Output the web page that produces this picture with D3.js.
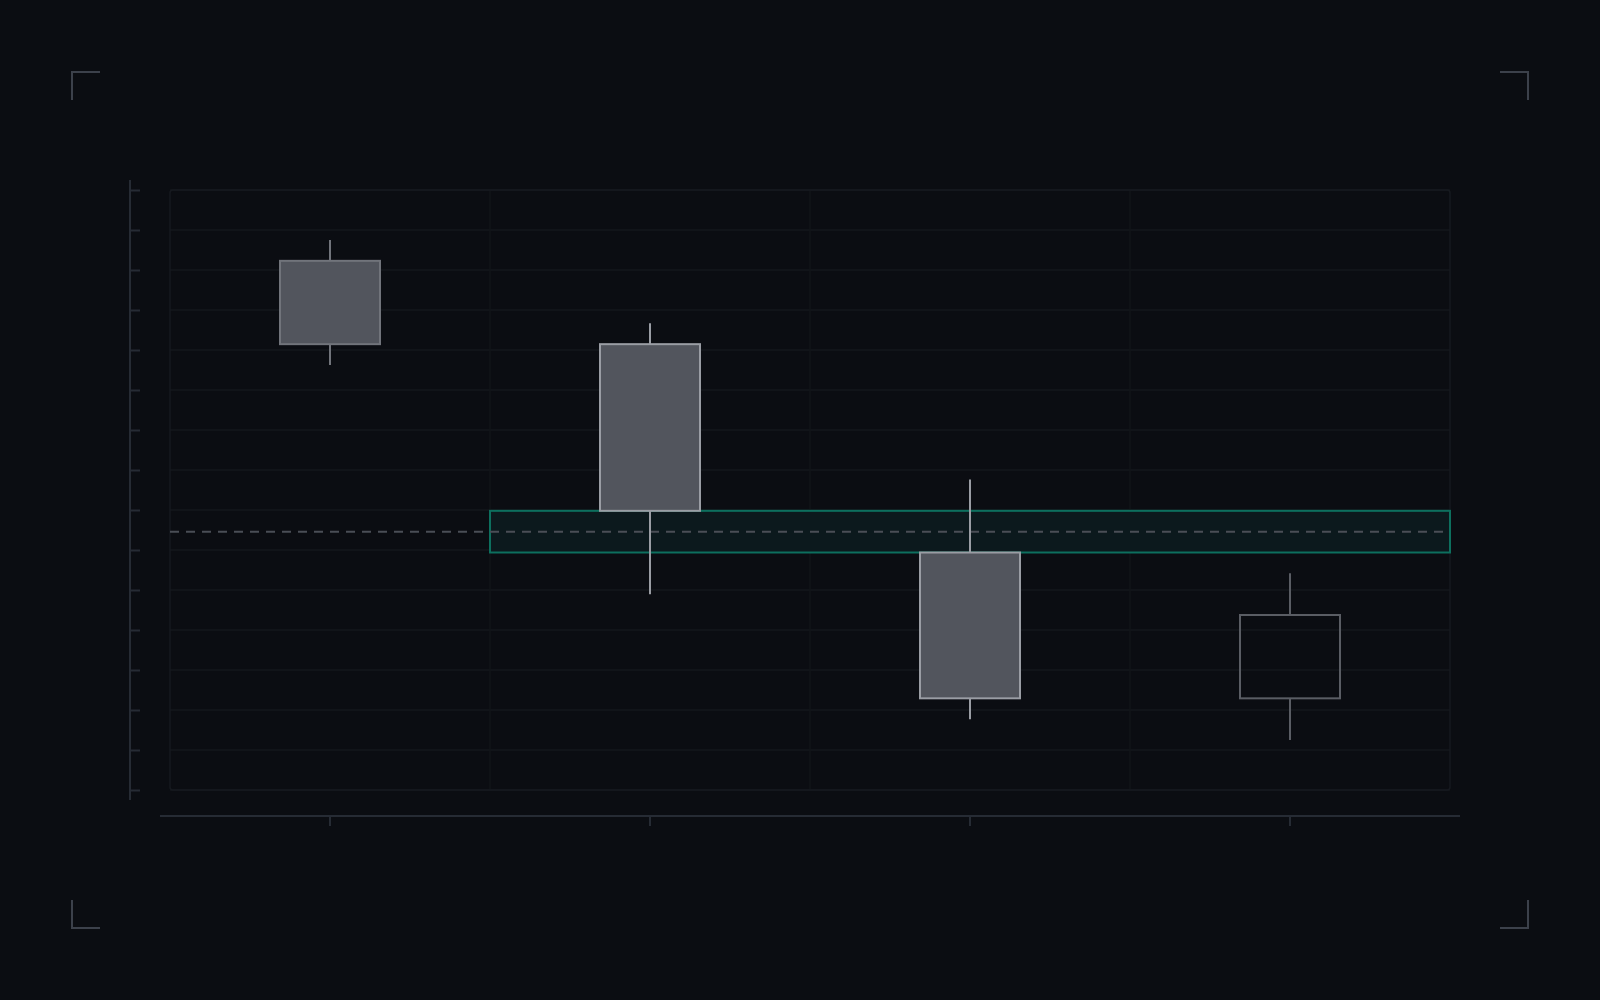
<!DOCTYPE html>
<html>
<head>
<meta charset="utf-8">
<script src="https://cdn.jsdelivr.net/npm/d3@7"></script>
<style>
	html, body { margin: 0; padding: 0; background: #0b0d12; }
	svg { display: block; }
</style>
</head>
<body>
<svg id="chart" width="1600" height="1000"></svg>
<script>
// candles
const categories = ['1', '2', '3', '4'];
const opens = [123, 119, 109, 102];
const highs = [124, 120, 112.5, 108];
const lows = [118, 107, 101, 100];
const closes = [119, 111, 102, 106];
const highlighted = [false, true, true, false];

// gap zone between candle 2 close and candle 3 open
const gapTop = 111;
const gapBottom = 109;
const gapMid = 110;
const gapStart = '2';

const gridSteps = 15;

const width = 1600;
const height = 1000;
const margin = {top: 190, right: 150, bottom: 210, left: 170};

let svg = d3.select('#chart');

svg.append('rect')
	.attr('width', width)
	.attr('height', height)
	.attr('fill', '#0b0d12');

let x = d3.scaleBand()
	.domain(categories)
	.range([margin.left, width - margin.right]);

let lo = d3.min(lows), hi = d3.max(highs);
let pad = (hi - lo) * 0.1;

let y = d3.scaleLinear()
	.domain([lo - pad, hi + pad])
	.range([height - margin.bottom, margin.top]);

let gridValues = d3.range(gridSteps + 1).map(i => y.domain()[0] + i * (y.domain()[1] - y.domain()[0]) / gridSteps);

// plot frame + grid
let grid = svg.append('g');

grid.selectAll('line.h')
	.data(gridValues)
	.enter()
	.append('line')
	.attr('class', 'h')
	.attr('x1', x.range()[0])
	.attr('x2', x.range()[1])
	.attr('y1', d => y(d))
	.attr('y2', d => y(d))
	.attr('stroke', '#14171c')
	.attr('stroke-width', 1.5);

grid.selectAll('line.v')
	.data(categories.slice(1))
	.enter()
	.append('line')
	.attr('class', 'v')
	.attr('x1', d => x(d))
	.attr('x2', d => x(d))
	.attr('y1', y.range()[1])
	.attr('y2', y.range()[0])
	.attr('stroke', '#121419')
	.attr('stroke-width', 1.5);

grid.append('rect')
	.attr('x', x.range()[0])
	.attr('y', y.range()[1])
	.attr('width', x.range()[1] - x.range()[0])
	.attr('height', y.range()[0] - y.range()[1])
	.attr('rx', 3)
	.attr('fill', 'none')
	.attr('stroke', '#16191f')
	.attr('stroke-width', 1.5);

// gap zone
let zone = svg.append('g');

zone.append('rect')
	.attr('x', x(gapStart))
	.attr('y', y(gapTop))
	.attr('width', x.range()[1] - x(gapStart))
	.attr('height', y(gapBottom) - y(gapTop))
	.attr('fill', '#0c191d')
	.attr('stroke', '#0d6f5e')
	.attr('stroke-width', 2);

zone.append('line')
	.attr('x1', x.range()[0])
	.attr('x2', x.range()[1])
	.attr('y1', y(gapMid))
	.attr('y2', y(gapMid))
	.attr('stroke', '#4a4e56')
	.attr('stroke-width', 2)
	.attr('stroke-dasharray', '9,7');

// candles
let candles = categories.map((c, i) => ({
	cat: c, open: opens[i], high: highs[i], low: lows[i], close: closes[i], hl: highlighted[i]
}));

let strokeColor = d => d.close > d.open ? '#5a5d64' : (d.hl ? '#9a9da4' : '#71747b');
let bodyW = x.bandwidth() * 0.3125;
let cx = d => x(d.cat) + x.bandwidth() / 2;

let g = svg.append('g')
	.selectAll('g')
	.data(candles)
	.enter()
	.append('g');

g.append('line')
	.attr('x1', cx)
	.attr('x2', cx)
	.attr('y1', d => y(d.high))
	.attr('y2', d => y(Math.max(d.open, d.close)))
	.attr('stroke', strokeColor)
	.attr('stroke-width', 2);

g.append('line')
	.attr('x1', cx)
	.attr('x2', cx)
	.attr('y1', d => y(Math.min(d.open, d.close)))
	.attr('y2', d => y(d.low))
	.attr('stroke', strokeColor)
	.attr('stroke-width', 2);

g.append('rect')
	.attr('x', d => cx(d) - bodyW / 2)
	.attr('y', d => y(Math.max(d.open, d.close)))
	.attr('width', bodyW)
	.attr('height', d => Math.abs(y(d.open) - y(d.close)))
	.attr('fill', d => d.close > d.open ? 'none' : '#52555d')
	.attr('stroke', strokeColor)
	.attr('stroke-width', 2);

// axes
let axisColor = '#262b34';

let yAxis = svg.append('g')
	.attr('transform', `translate(${margin.left - 40},0)`)
	.call(d3.axisRight(y).tickValues(gridValues).tickSize(10).tickFormat(''));
yAxis.select('.domain').remove();
yAxis.selectAll('line').attr('stroke', axisColor).attr('stroke-width', 2);
yAxis.append('line')
	.attr('y1', y.range()[1] - 10)
	.attr('y2', y.range()[0] + 10)
	.attr('stroke', axisColor)
	.attr('stroke-width', 2);

let xAxis = svg.append('g')
	.attr('transform', `translate(0,${height - margin.bottom + 26})`)
	.call(d3.axisBottom(x).tickSize(10).tickSizeOuter(0).tickFormat(''));
xAxis.select('.domain').remove();
xAxis.selectAll('line').attr('stroke', axisColor).attr('stroke-width', 2);
xAxis.append('line')
	.attr('x1', x.range()[0] - 10)
	.attr('x2', x.range()[1] + 10)
	.attr('stroke', axisColor)
	.attr('stroke-width', 2);

// corner marks
const inset = 72, len = 28;
let corners = [
	[inset, inset, 1, 1],
	[width - inset, inset, -1, 1],
	[inset, height - inset, 1, -1],
	[width - inset, height - inset, -1, -1]
];

svg.append('g')
	.selectAll('path')
	.data(corners)
	.enter()
	.append('path')
	.attr('d', ([cx0, cy0, sx, sy]) => `M${cx0},${cy0 + sy * len}V${cy0}H${cx0 + sx * len}`)
	.attr('fill', 'none')
	.attr('stroke', '#3c414b')
	.attr('stroke-width', 2);
</script>
</body>
</html>
